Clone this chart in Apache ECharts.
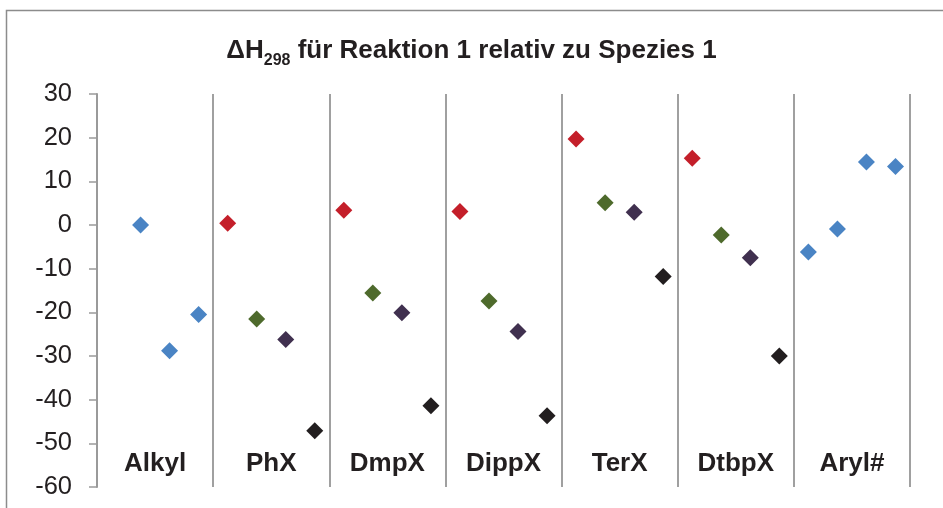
<!DOCTYPE html>
<html>
<head>
<meta charset="utf-8">
<script src="https://cdn.jsdelivr.net/npm/echarts@6/dist/echarts.min.js"></script>
<style>
  html, body { margin: 0; padding: 0; background: #fff; }
  #chart { width: 943px; height: 508px; }
</style>
</head>
<body>
<div id="chart"></div>
<script>
// Gruppen (je 4 Plätze auf der x-Achse)
const groups = ['Alkyl', 'PhX', 'DmpX', 'DippX', 'TerX', 'DtbpX', 'Aryl#'];
const yTicks = [30, 20, 10, 0, -10, -20, -30, -40, -50, -60];

// Alkyl: Plätze 1..3, Aryl#: Plätze 0..3 (blau)
const alkylValues = [0, -28.8, -20.5];
const arylValues = [-6.2, -0.9, 14.4, 13.4];

// PhX, DmpX, DippX, TerX, DtbpX
const redValues = [0.4, 3.4, 3.1, 19.7, 15.3];
const greenValues = [-21.5, -15.6, -17.4, 5.1, -2.3];
const purpleValues = [-26.2, -20.1, -24.4, 2.9, -7.5];
const blackValues = [-47.1, -41.4, -43.7, -11.8, -30.0];

const slotsPerGroup = 4;

const chart = echarts.init(document.getElementById('chart'));

const xPos = (group, slot) => group * slotsPerGroup + slot + 0.5;

const blueData = alkylValues.map((v, i) => [xPos(0, i + 1), v])
  .concat(arylValues.map((v, i) => [xPos(6, i), v]));
const midSeries = (vals, slot) => vals.map((v, i) => [xPos(i + 1, slot), v]);

const dia = (name, color, data) => ({
  name,
  type: 'scatter',
  xAxisIndex: 1,
  symbol: 'diamond',
  symbolSize: 17,
  itemStyle: { color, opacity: 1 },
  data
});

const option = {
  animation: false,
  graphic: [{
    type: 'rect',
    shape: { x: 6.5, y: 10.5, width: 960, height: 520 },
    style: { fill: 'none', stroke: '#8c8c8c', lineWidth: 1.5 },
    silent: true
  }],
  title: {
    text: '{a|ΔH}{b|298}{a| für Reaktion 1 relativ zu Spezies 1}',
    left: 'center',
    top: 28,
    textStyle: {
      rich: {
        a: { fontFamily: 'Liberation Sans', fontWeight: 'bold', fontSize: 26, lineHeight: 36, color: '#231f20' },
        b: { fontFamily: 'Liberation Sans', fontWeight: 'bold', fontSize: 16, lineHeight: 16, verticalAlign: 'bottom', color: '#231f20' }
      }
    }
  },
  grid: { left: 97, right: 33, top: 94, bottom: 21 },
  xAxis: [
    {
      type: 'category',
      data: groups,
      boundaryGap: true,
      axisLine: { show: false },
      axisTick: { show: false },
      splitLine: { show: true, lineStyle: { color: '#a0a0a0', width: 2 } },
      axisLabel: {
        inside: true,
        margin: 23,
        verticalAlign: 'middle',
        fontFamily: 'Liberation Sans',
        fontWeight: 'bold',
        fontSize: 26,
        color: '#231f20'
      }
    },
    { type: 'value', min: 0, max: groups.length * slotsPerGroup, show: false }
  ],
  yAxis: {
    type: 'value',
    min: -60,
    max: 30,
    interval: 10,
    axisLine: { show: true, lineStyle: { color: '#9a9a9a', width: 2 } },
    axisTick: { show: true, length: 8, lineStyle: { color: '#9a9a9a', width: 1.5 } },
    splitLine: { show: false },
    axisLabel: {
      margin: 25,
      fontFamily: 'Liberation Sans',
      fontSize: 25.5,
      color: '#231f20'
    }
  },
  series: [
    dia('blau', '#4a84c4', blueData),
    dia('rot', '#c41f2a', midSeries(redValues, 0)),
    dia('grün', '#4e6a2c', midSeries(greenValues, 1)),
    dia('violett', '#40304f', midSeries(purpleValues, 2)),
    dia('schwarz', '#221e1f', midSeries(blackValues, 3))
  ]
};

chart.setOption(option);
</script>
</body>
</html>
